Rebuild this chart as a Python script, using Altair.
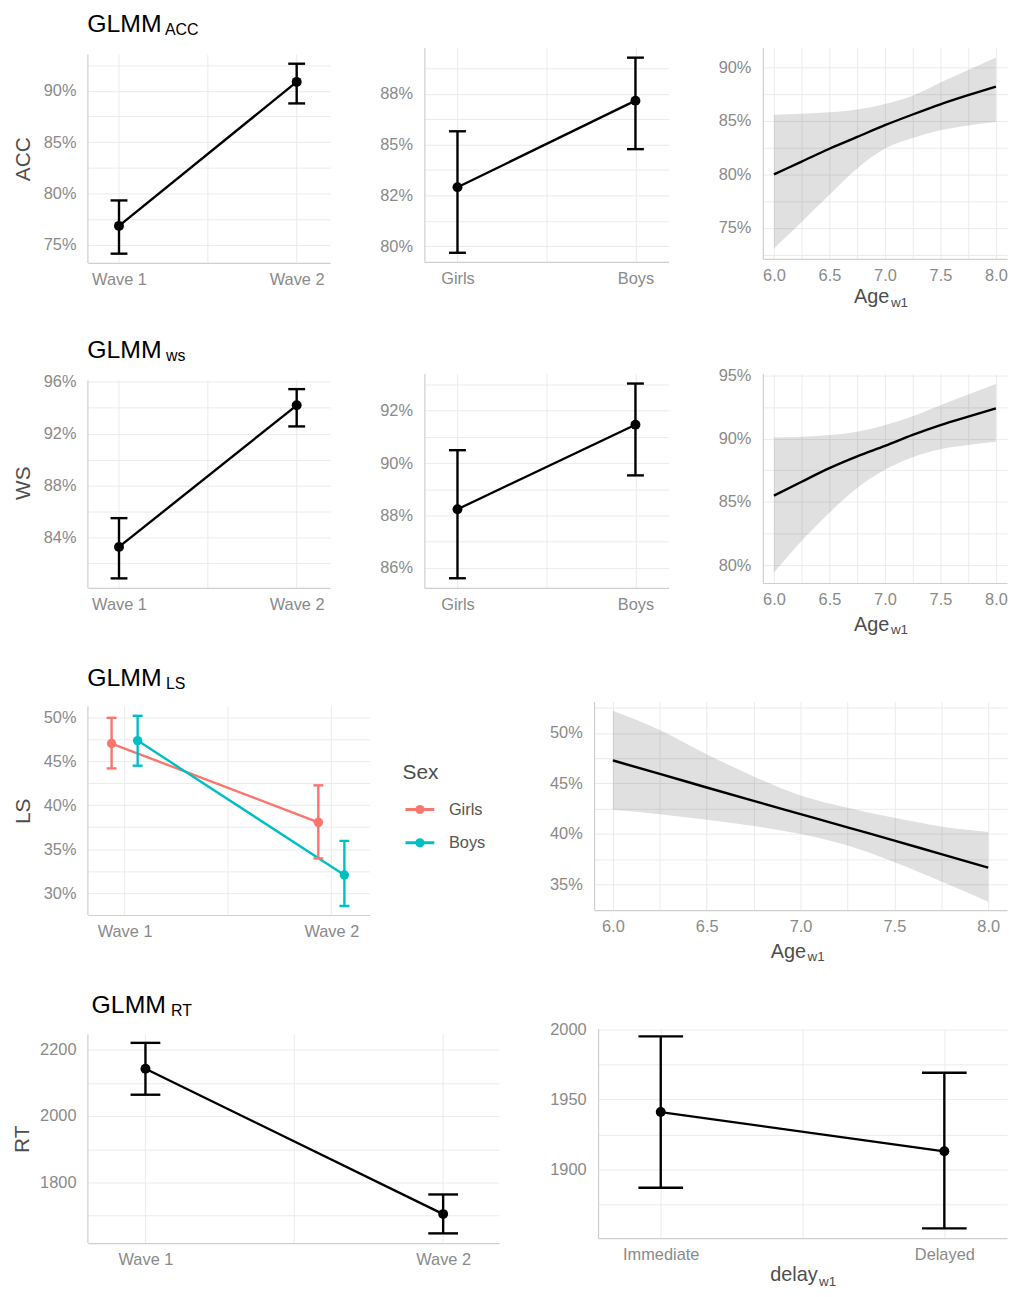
import altair as alt
import pandas as pd

FONT = "Liberation Sans"
LABEL_GRAY = "#8A8A8A"
TITLE_GRAY = "#4D4D4D"
GRID = "#EBEBEB"
DOMAIN = "#CFCFCF"
LW = 2.4

# ---------------- data ----------------
waves = ["Wave 1", "Wave 2"]
sexes = ["Girls", "Boys"]
delays = ["Immediate", "Delayed"]
ages = [6.0, 6.25, 6.5, 6.75, 7.0, 7.25, 7.5, 7.75, 8.0]
age_major = [6.0, 6.5, 7.0, 7.5, 8.0]
age_labels = ["6.0", "6.5", "7.0", "7.5", "8.0"]
cat_grid = [1, 1.5, 2]

acc_wave_est = [0.7683, 0.9087]
acc_wave_lo = [0.7412, 0.8877]
acc_wave_hi = [0.7931, 0.9264]
acc_sex_est = [0.8290, 0.8717]
acc_sex_lo = [0.7967, 0.8478]
acc_sex_hi = [0.8566, 0.8929]
acc_age_est = [0.800, 0.812, 0.824, 0.835, 0.846, 0.856, 0.8655, 0.874, 0.882]
acc_age_lo = [0.7308, 0.7555, 0.7809, 0.8056, 0.8241, 0.8340, 0.8412, 0.8458, 0.8489]
acc_age_hi = [0.8557, 0.8566, 0.8580, 0.8606, 0.8659, 0.8736, 0.8860, 0.8977, 0.9092]

ws_wave_est = [0.8326, 0.9419]
ws_wave_lo = [0.8083, 0.9256]
ws_wave_hi = [0.8548, 0.9544]
ws_sex_est = [0.8824, 0.9146]
ws_sex_lo = [0.8561, 0.8953]
ws_sex_hi = [0.9049, 0.9303]
ws_age_est = [0.8550, 0.8660, 0.8767, 0.8860, 0.8943, 0.9030, 0.9108, 0.9175, 0.9239]
ws_age_lo = [0.7942, 0.8191, 0.8414, 0.8610, 0.8754, 0.8854, 0.8917, 0.8950, 0.8976]
ws_age_hi = [0.9011, 0.9016, 0.9029, 0.9055, 0.9108, 0.9178, 0.9265, 0.9349, 0.9435]

ls_girls_est = [0.4700, 0.3805]
ls_girls_lo = [0.4417, 0.3395]
ls_girls_hi = [0.4992, 0.4225]
ls_boys_est = [0.4733, 0.3207]
ls_boys_lo = [0.4448, 0.2854]
ls_boys_hi = [0.5015, 0.3594]
ls_age_est = [0.4728, 0.4595, 0.4460, 0.4327, 0.4196, 0.4065, 0.3935, 0.3800, 0.3667]
ls_age_lo = [0.4240, 0.4196, 0.4140, 0.4080, 0.4000, 0.3885, 0.3720, 0.3530, 0.3330]
ls_age_hi = [0.5220, 0.5030, 0.4790, 0.4570, 0.4380, 0.4260, 0.4160, 0.4075, 0.4020]

rt_wave_est = [2142, 1705]
rt_wave_lo = [2064, 1647]
rt_wave_hi = [2220, 1764]
rt_delay_est = [1941, 1913]
rt_delay_lo = [1887, 1858]
rt_delay_hi = [1995, 1969]

sex_colors = ["#F8766D", "#00BFC4"]

# tick values / labels
acc_wave_ticks = [0.75, 0.80, 0.85, 0.90]
acc_wave_tlab = ["75%", "80%", "85%", "90%"]
acc_wave_minor = [0.775, 0.825, 0.875, 0.925]
acc_sex_ticks = [0.80, 0.825, 0.85, 0.875]
acc_sex_tlab = ["80%", "82%", "85%", "88%"]
acc_sex_minor = [0.8125, 0.8375, 0.8625, 0.8875]
acc_age_ticks = [0.75, 0.80, 0.85, 0.90]
acc_age_tlab = ["75%", "80%", "85%", "90%"]
acc_age_minor = [0.725, 0.775, 0.825, 0.875]

ws_wave_ticks = [0.84, 0.88, 0.92, 0.96]
ws_wave_tlab = ["84%", "88%", "92%", "96%"]
ws_wave_minor = [0.82, 0.86, 0.90, 0.94]
ws_sex_ticks = [0.86, 0.88, 0.90, 0.92]
ws_sex_tlab = ["86%", "88%", "90%", "92%"]
ws_sex_minor = [0.87, 0.89, 0.91, 0.93]
ws_age_ticks = [0.80, 0.85, 0.90, 0.95]
ws_age_tlab = ["80%", "85%", "90%", "95%"]
ws_age_minor = [0.825, 0.875, 0.925]

ls_wave_ticks = [0.30, 0.35, 0.40, 0.45, 0.50]
ls_wave_tlab = ["30%", "35%", "40%", "45%", "50%"]
ls_wave_minor = [0.325, 0.375, 0.425, 0.475]
ls_age_ticks = [0.35, 0.40, 0.45, 0.50]
ls_age_tlab = ["35%", "40%", "45%", "50%"]
ls_age_minor = [0.375, 0.425, 0.475, 0.525]

rt_wave_ticks = [1800, 2000, 2200]
rt_wave_tlab = ["1800", "2000", "2200"]
rt_wave_minor = [1700, 1900, 2100]
rt_delay_ticks = [1900, 1950, 2000]
rt_delay_tlab = ["1900", "1950", "2000"]
rt_delay_minor = [1875, 1925, 1975]

ONE = pd.DataFrame({"k": [0]})


def lab_expr(vals, labels):
    v = list(vals)
    return f"indexof({v}, datum.value) < 0 ? '' : {list(labels)}[indexof({v}, datum.value)]"


def vaxis(major, labels, minor, title=None, tx=0, ty=0, domain=True):
    kw = dict(values=sorted(major + minor), labelExpr=lab_expr(major, labels), grid=True,
              ticks=False, labelOverlap=False, labelFlush=False, labelPadding=12,
              labelFontSize=16.5, labelColor=LABEL_GRAY, labelFont=FONT, domain=domain)
    if title:
        kw.update(title=title, titleAngle=270, titleX=tx, titleY=ty, titleAlign="center",
                  titleBaseline="middle", titleFontSize=21, titleFont=FONT,
                  titleColor=TITLE_GRAY, titleFontWeight="normal")
    else:
        kw["title"] = None
    return alt.Axis(**kw)


def haxis(vals, major, labels, grid=True):
    return alt.Axis(values=list(vals), labelExpr=lab_expr(major, labels), grid=grid, ticks=False,
                    labelOverlap=False, labelFlush=False, labelPadding=9, labelFontSize=16.5,
                    labelColor=LABEL_GRAY, labelFont=FONT, title=None)


def text(t, x, y, size, color="black", align="left"):
    return alt.Chart(ONE).mark_text(text=t, align=align, baseline="alphabetic", fontSize=size,
                                    font=FONT, color=color).encode(x=alt.value(x), y=alt.value(y))


def panel_title(sub, x0, xs):
    return [text("GLMM", x0, -16, 25), text(sub, xs, -13, 16)]


def xtitle(main, sub, xsub, ymain, ysub):
    return [text(main, xsub - 1.5, ymain, 20, TITLE_GRAY, align="right"),
            text(sub, xsub, ysub, 13.5, TITLE_GRAY)]


def short_guides(X, xs, xa, ys, ya, xleft, ybot, ytop):
    """Vertical grid lines and left axis line that stop below the panel title."""
    g = pd.DataFrame({"gx": cat_grid, "gb": [ybot] * len(cat_grid), "gt": [ytop] * len(cat_grid)})
    a = pd.DataFrame({"gx": [xleft], "gb": [ybot], "gt": [ytop]})
    grid = alt.Chart(g).mark_rule(color=GRID, strokeWidth=1).encode(
        x=alt.X("gx:Q", scale=xs, axis=xa), y=alt.Y("gb:Q", scale=ys, axis=ya), y2="gt:Q")
    axl = alt.Chart(a).mark_rule(color=DOMAIN, strokeWidth=1.2).encode(
        x=alt.X("gx:Q", scale=xs, axis=xa), y=alt.Y("gb:Q", scale=ys, axis=ya), y2="gt:Q")
    return [grid, axl]


def cat_panel(cats, est, lo, hi, width, height, xdom, ydom, ymaj, ylab, ymin, cap,
              ytitle=None, tx=0, ty=0, ytop=None, extra=()):
    df = pd.DataFrame({"pos": [i + 1 for i in range(len(cats))], "est": est, "lo": lo, "hi": hi})
    short = ytop is not None
    xs = alt.Scale(domain=xdom, nice=False, zero=False)
    xa = haxis(cat_grid, [1, 2], cats, grid=not short)
    X = alt.X("pos:Q", scale=xs, axis=xa)
    ys = alt.Scale(domain=ydom, nice=False, zero=False)
    ya = vaxis(ymaj, ylab, ymin, ytitle, tx, ty, domain=not short)
    base = alt.Chart(df)
    guides = short_guides(X, xs, xa, ys, ya, xdom[0], ydom[0], ytop) if short else []
    line = base.mark_line(color="black", strokeWidth=LW).encode(
        x=X, y=alt.Y("est:Q", scale=ys, axis=ya))
    bar = base.mark_rule(color="black", strokeWidth=LW).encode(
        x=X, y=alt.Y("lo:Q", scale=ys, axis=ya), y2="hi:Q")
    cap_hi = base.mark_tick(orient="horizontal", size=cap, thickness=LW, color="black", opacity=1).encode(
        x=X, y=alt.Y("hi:Q", scale=ys, axis=ya))
    cap_lo = base.mark_tick(orient="horizontal", size=cap, thickness=LW, color="black", opacity=1).encode(
        x=X, y=alt.Y("lo:Q", scale=ys, axis=ya))
    pts = base.mark_point(filled=True, size=100, color="black", opacity=1).encode(
        x=X, y=alt.Y("est:Q", scale=ys, axis=ya))
    return alt.layer(*guides, line, bar, cap_hi, cap_lo, pts, *extra).properties(width=width, height=height)


def age_panel(est, lo, hi, width, height, ydom, ymaj, ylab, ymin, extra=()):
    df = pd.DataFrame({"age": ages, "est": est, "lo": lo, "hi": hi})
    X = alt.X("age:Q", scale=alt.Scale(domain=[5.9, 8.1], nice=False, zero=False),
              axis=haxis(ages, age_major, age_labels))
    ys = alt.Scale(domain=ydom, nice=False, zero=False)
    ya = vaxis(ymaj, ylab, ymin)
    base = alt.Chart(df)
    band = base.mark_area(color="black", opacity=0.12, interpolate="monotone").encode(
        x=X, y=alt.Y("lo:Q", scale=ys, axis=ya), y2="hi:Q")
    line = base.mark_line(color="black", strokeWidth=LW, interpolate="monotone").encode(
        x=X, y=alt.Y("est:Q", scale=ys, axis=ya))
    return alt.layer(band, line, *extra).properties(width=width, height=height)


# ---------------- row 1: ACC ----------------
p1 = cat_panel(waves, acc_wave_est, acc_wave_lo, acc_wave_hi, 244, 217, [0.825, 2.188],
               [0.7322, 0.9422], acc_wave_ticks, acc_wave_tlab, acc_wave_minor, 17,
               "ACC", -65, 112, ytop=0.9354, extra=panel_title("ACC", -0.7, 77.7))
p2 = cat_panel(sexes, acc_sex_est, acc_sex_lo, acc_sex_hi, 246, 216, [0.814, 2.186],
               [0.7922, 0.8979], acc_sex_ticks, acc_sex_tlab, acc_sex_minor, 17)
p3 = age_panel(acc_age_est, acc_age_lo, acc_age_hi, 246, 213, [0.7210, 0.9186],
               acc_age_ticks, acc_age_tlab, acc_age_minor,
               extra=xtitle("Age", "w1", 129, 257.7, 261))

# ---------------- row 2: WS ----------------
p4 = cat_panel(waves, ws_wave_est, ws_wave_lo, ws_wave_hi, 244, 216, [0.825, 2.188],
               [0.8009, 0.9664], ws_wave_ticks, ws_wave_tlab, ws_wave_minor, 17,
               "WS", -65, 110, ytop=0.9610, extra=panel_title("ws", -0.7, 78.7))
p5 = cat_panel(sexes, ws_sex_est, ws_sex_lo, ws_sex_hi, 246, 216, [0.814, 2.186],
               [0.8524, 0.9341], ws_sex_ticks, ws_sex_tlab, ws_sex_minor, 17)
p6 = age_panel(ws_age_est, ws_age_lo, ws_age_hi, 246, 211, [0.7859, 0.9515],
               ws_age_ticks, ws_age_tlab, ws_age_minor,
               extra=xtitle("Age", "w1", 129, 259.3, 262.7))

# ---------------- row 3: LS ----------------
dodge = [-0.063, 0.063]
ls_est = [ls_girls_est, ls_boys_est]
ls_lo = [ls_girls_lo, ls_boys_lo]
ls_hi = [ls_girls_hi, ls_boys_hi]
rows = []
for j, s in enumerate(sexes):
    for i, w in enumerate(waves):
        rows.append({"sex": s, "pos": i + 1 + dodge[j], "est": ls_est[j][i],
                     "lo": ls_lo[j][i], "hi": ls_hi[j][i]})
ls_df = pd.DataFrame(rows)
ls_xdom = [0.8224, 2.186]
ls_ydom = [0.2752, 0.5176]
ls_xs = alt.Scale(domain=ls_xdom, nice=False, zero=False)
ls_xa = haxis(cat_grid, [1, 2], waves, grid=False)
LX = alt.X("pos:Q", scale=ls_xs, axis=ls_xa)
ls_ys = alt.Scale(domain=ls_ydom, nice=False, zero=False)
ls_ya = vaxis(ls_wave_ticks, ls_wave_tlab, ls_wave_minor, "LS", -65, 110, domain=False)
C = alt.Color("sex:N", scale=alt.Scale(domain=sexes, range=sex_colors), legend=None)
lb = alt.Chart(ls_df)
ls_layers = short_guides(LX, ls_xs, ls_xa, ls_ys, ls_ya, ls_xdom[0], ls_ydom[0], 0.5124) + [
    lb.mark_line(strokeWidth=LW).encode(x=LX, y=alt.Y("est:Q", scale=ls_ys, axis=ls_ya), color=C),
    lb.mark_rule(strokeWidth=LW).encode(x=LX, y=alt.Y("lo:Q", scale=ls_ys, axis=ls_ya), y2="hi:Q", color=C),
    lb.mark_tick(orient="horizontal", size=10, thickness=LW, opacity=1).encode(
        x=LX, y=alt.Y("hi:Q", scale=ls_ys, axis=ls_ya), color=C),
    lb.mark_tick(orient="horizontal", size=10, thickness=LW, opacity=1).encode(
        x=LX, y=alt.Y("lo:Q", scale=ls_ys, axis=ls_ya), color=C),
    lb.mark_point(filled=True, size=90, opacity=1).encode(
        x=LX, y=alt.Y("est:Q", scale=ls_ys, axis=ls_ya), color=C),
]
# legend drawn by hand
legend_layers = [text("Sex", 317, 78, 21, TITLE_GRAY)]
for j, s in enumerate(sexes):
    ry = 108.7 + 33.5 * j
    legend_layers.append(alt.Chart(ONE).mark_rule(color=sex_colors[j], strokeWidth=3).encode(
        x=alt.value(320), x2=alt.value(349), y=alt.value(ry)))
    legend_layers.append(alt.Chart(ONE).mark_point(filled=True, size=85, opacity=1, color=sex_colors[j]).encode(
        x=alt.value(334.5), y=alt.value(ry)))
    legend_layers.append(text(s, 363.7, ry + 5.5, 16.5, "#555555"))

p7 = alt.layer(*ls_layers, *panel_title("LS", -0.7, 78.7), *legend_layers).properties(width=284, height=215)
p8 = age_panel(ls_age_est, ls_age_lo, ls_age_hi, 416, 210, [0.3247, 0.5310],
               ls_age_ticks, ls_age_tlab, ls_age_minor,
               extra=xtitle("Age", "w1", 215, 258.3, 261.7))

# ---------------- row 4: RT ----------------
p9 = cat_panel(waves, rt_wave_est, rt_wave_lo, rt_wave_hi, 414, 216, [0.8067, 2.187],
               [1617.9, 2262.7], rt_wave_ticks, rt_wave_tlab, rt_wave_minor, 30,
               "RT", -66, 111, ytop=2244.8, extra=panel_title("RT", 3.7, 83.7))
p10 = cat_panel(delays, rt_delay_est, rt_delay_lo, rt_delay_hi, 412, 211, [0.779, 2.221],
                [1851.1, 2000.5], rt_delay_ticks, rt_delay_tlab, rt_delay_minor, 45,
                extra=xtitle("delay", "w1", 222.7, 254.5, 259.5))

row1 = alt.hconcat(p1, p2, p3, spacing=95, bounds="flush")
row2 = alt.hconcat(p4, p5, p6, spacing=95, bounds="flush")
row3 = alt.hconcat(p7, p8, spacing=226, bounds="flush")
row4 = alt.hconcat(p9, p10, spacing=100, bounds="flush")

chart = alt.vconcat(row1, row2, row3, row4, spacing=28.5).properties(
    padding={"left": 3.5, "top": -1, "right": 0, "bottom": -2.5}
).configure_view(stroke=None).configure_axis(
    domainColor=DOMAIN, domainWidth=1.2, gridColor=GRID, gridWidth=1
)

chart.save("out.html", embed_options={"renderer": "svg", "actions": False})
